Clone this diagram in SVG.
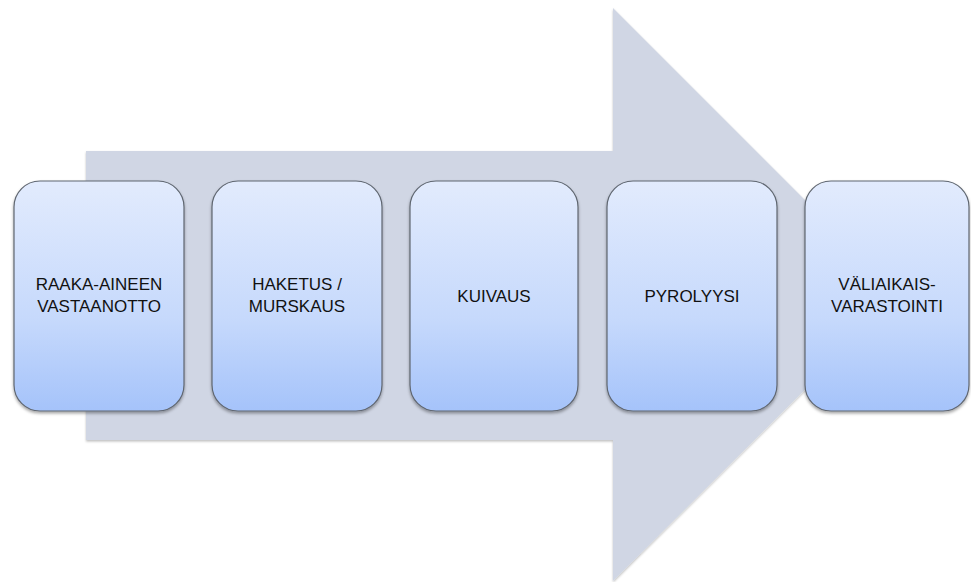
<svg xmlns="http://www.w3.org/2000/svg" width="971" height="582" viewBox="0 0 971 582">
  <style>
    .step { fill: url(#stepFill); stroke: #5f6670; stroke-width: 1.2; filter: url(#boxShadow); }
    .label { font-family: "Liberation Sans", Arial, sans-serif; font-size: 17px; fill: #111; text-anchor: middle; }
  </style>
  <defs>
    <linearGradient id="stepFill" x1="0" y1="0" x2="0" y2="1">
      <stop offset="0" stop-color="#e2ebfd"/>
      <stop offset="0.6" stop-color="#c6d9fc"/>
      <stop offset="1" stop-color="#a5c3fa"/>
    </linearGradient>
    <filter id="boxShadow" x="-10%" y="-10%" width="120%" height="120%">
      <feDropShadow dx="0" dy="2" stdDeviation="1.6" flood-color="#000" flood-opacity="0.35"/>
    </filter>
    <filter id="arrowShadow" x="-5%" y="-5%" width="110%" height="110%">
      <feDropShadow dx="0" dy="1.5" stdDeviation="1.2" flood-color="#000" flood-opacity="0.25"/>
    </filter>
  </defs>

  <rect width="971" height="582" fill="#ffffff"/>

  <!-- background process arrow -->
  <g id="arrow">
    <polygon points="86,151 613,151 613,8 900,295 613,581 613,440 86,440" fill="#d0d6e4" filter="url(#arrowShadow)"/>
  </g>

  <g id="step1">
    <rect class="step" x="14" y="181" width="170" height="230" rx="26"/>
    <text class="label" x="99" y="290">RAAKA-AINEEN</text>
    <text class="label" x="99" y="312">VASTAANOTTO</text>
  </g>

  <g id="step2">
    <rect class="step" x="212" y="181" width="170" height="230" rx="26"/>
    <text class="label" x="297" y="290">HAKETUS /</text>
    <text class="label" x="297" y="312">MURSKAUS</text>
  </g>

  <g id="step3">
    <rect class="step" x="410" y="181" width="168" height="230" rx="26"/>
    <text class="label" x="494" y="302">KUIVAUS</text>
  </g>

  <g id="step4">
    <rect class="step" x="607" y="181" width="170" height="230" rx="26"/>
    <text class="label" x="692" y="302">PYROLYYSI</text>
  </g>

  <g id="step5">
    <rect class="step" x="805" y="181" width="164" height="230" rx="26"/>
    <text class="label" x="887" y="290">VÄLIAIKAIS-</text>
    <text class="label" x="887" y="312">VARASTOINTI</text>
  </g>
</svg>
